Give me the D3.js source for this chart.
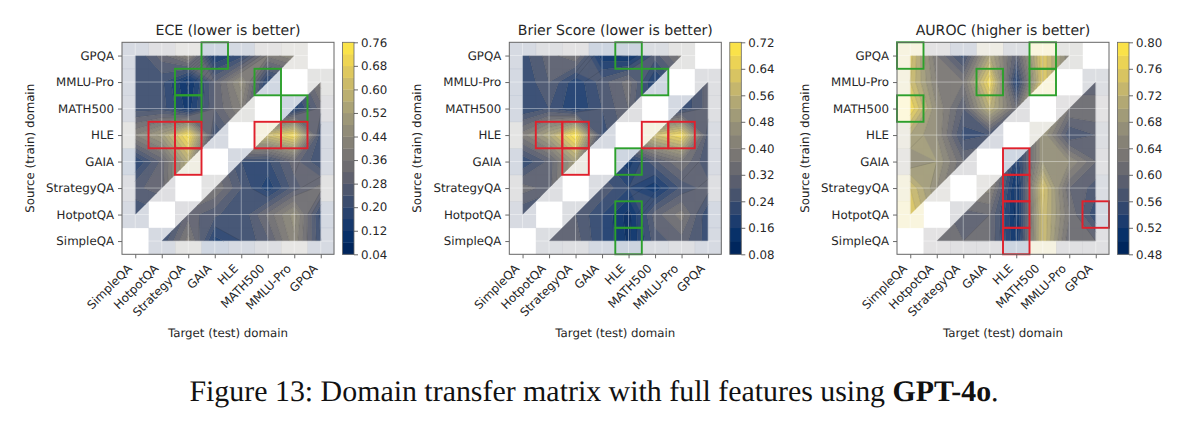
<!DOCTYPE html>
<html>
<head>
<meta charset="utf-8">
<script src="https://cdn.jsdelivr.net/npm/d3@7"></script>
<style>
  html, body { margin: 0; padding: 0; background: #fff; }
  svg { display: block; text-rendering: geometricPrecision; }
  text { font-family: "DejaVu Sans", sans-serif; fill: #262626; }
  .caption { font-family: "Liberation Serif", serif; fill: #111; }
</style>
</head>
<body>
<svg id="figure" width="1186" height="423"></svg>
<script>
// Domains in index order; row 0 sits at the bottom, column 0 at the left.
const domains = ["SimpleQA", "HotpotQA", "StrategyQA", "GAIA", "HLE", "MATH500", "MMLU-Pro", "GPQA"];
const N = NaN; // a domain is never transferred onto itself

// Each matrix is listed row by row, source SimpleQA first, target SimpleQA first.
const eceValues = [
  [N,   .20, .38, .14, .20, .27, .43, .20],
  [.20, N,   .30, .25, .20, .33, .46, .18],
  [.27, .30, N,   .36, .24, .13, .26, .34],
  [.15, .29, .56, N,   .20, .19, .30, .20],
  [.40, .50, .74, .20, N,   .62, .72, .20],
  [.22, .22, .10, .28, .40, N,   .13, .30],
  [.20, .21, .07, .28, .46, .14, N,   .38],
  [.20, .30, .42, .11, .18, .37, .44, N  ]
];
const brierValues = [
  [N,   .28, .30, .20, .11, .26, .30, .22],
  [.24, N,   .28, .20, .10, .30, .38, .20],
  [.34, .30, N,   .27, .20, .13, .25, .30],
  [.20, .29, .50, N,   .14, .27, .36, .24],
  [.38, .52, .72, .22, N,   .60, .68, .25],
  [.20, .24, .16, .24, .32, N,   .20, .30],
  [.20, .28, .17, .26, .34, .15, N,   .30],
  [.22, .30, .36, .13, .11, .26, .38, N  ]
];
const aurocValues = [
  [N,   .62, .60, .60, .50, .74, .60, .60],
  [.76, N,   .59, .60, .49, .74, .62, .54],
  [.74, .66, N,   .65, .49, .75, .60, .57],
  [.66, .68, .60, N,   .52, .68, .66, .60],
  [.70, .66, .55, .56, N,   .68, .56, .58],
  [.78, .66, .58, .72, .60, N,   .62, .62],
  [.74, .64, .62, .78, .52, .76, N,   .58],
  [.75, .62, .55, .70, .58, .76, .64, N  ]
];

// Colour ranges and contour spacing for the three metrics.
const eceTicks = [.04, .12, .20, .28, .36, .44, .52, .60, .68, .76];
const brierTicks = [.08, .16, .24, .32, .40, .48, .56, .64, .72];
const aurocTicks = [.48, .52, .56, .60, .64, .68, .72, .76, .80];
const eceStep = .04, brierStep = .04, aurocStep = .02;

// Highlighted cells as [column, row].
const eceGreen = [[3, 7], [2, 6], [2, 5], [5, 6], [6, 5]];
const eceRed = [[1, 4], [2, 4], [2, 3], [5, 4], [6, 4]];
const brierGreen = [[4, 7], [5, 6], [4, 3], [4, 1], [4, 0]];
const brierRed = [[1, 4], [2, 4], [2, 3], [5, 4], [6, 4]];
const aurocGreen = [[0, 7], [5, 7], [3, 6], [5, 6], [0, 5]];
const aurocRed = [[4, 3], [4, 2], [4, 1], [4, 0], [7, 1]];

const panels = [
  { title: "ECE (lower is better)", values: eceValues, ticks: eceTicks, step: eceStep, green: eceGreen, red: eceRed, left: 122 },
  { title: "Brier Score (lower is better)", values: brierValues, ticks: brierTicks, step: brierStep, green: brierGreen, red: brierRed, left: 509.3 },
  { title: "AUROC (higher is better)", values: aurocValues, ticks: aurocTicks, step: aurocStep, green: aurocGreen, red: aurocRed, left: 897 }
];

const SIZE = 212, TOP = 42.3, FONT = 11.8;
const svg = d3.select("#figure");

// Walks the perimeter of a cell polygon and keeps the stretch inside [lo, hi].
function bandPolygon(poly, lo, hi) {
  const out = [];
  poly.forEach((p, i) => {
    const q = poly[(i + 1) % poly.length];
    if (p[2] >= lo && p[2] <= hi) out.push([p[0], p[1]]);
    const crossings = [lo, hi]
      .filter(l => (p[2] < l && q[2] > l) || (p[2] > l && q[2] < l))
      .map(l => (l - p[2]) / (q[2] - p[2]))
      .sort((a, b) => a - b);
    crossings.forEach(t => out.push([p[0] + t * (q[0] - p[0]), p[1] + t * (q[1] - p[1])]));
  });
  return out;
}

// Points where one level crosses the perimeter of a cell polygon.
function levelCrossings(poly, level) {
  const out = [];
  poly.forEach((p, i) => {
    const q = poly[(i + 1) % poly.length];
    if ((p[2] < level && q[2] >= level) || (p[2] >= level && q[2] < level)) {
      const t = (level - p[2]) / (q[2] - p[2]);
      out.push([p[0] + t * (q[0] - p[0]), p[1] + t * (q[1] - p[1])]);
    }
  });
  return out;
}

// Cells of the grid spanned by the data points; one missing corner leaves a triangle.
function gridPolygons(values) {
  const polys = [];
  for (let r = 0; r < values.length - 1; r++) {
    for (let c = 0; c < values[r].length - 1; c++) {
      const corners = [[c, r], [c + 1, r], [c + 1, r + 1], [c, r + 1]]
        .map(([x, y]) => [x, y, values[y][x]])
        .filter(p => !Number.isNaN(p[2]));
      if (corners.length >= 3) polys.push(corners);
    }
  }
  return polys;
}

panels.forEach(panel => {
  const g = svg.append("g").attr("transform", `translate(${panel.left},${TOP})`);
  const x = d3.scaleLinear().domain([-0.5, domains.length - 0.5]).range([0, SIZE]);
  const y = d3.scaleLinear().domain([-0.5, domains.length - 0.5]).range([SIZE, 0]);
  const vMin = d3.min(panel.ticks), vMax = d3.max(panel.ticks);
  const color = d3.scaleSequential(d3.interpolateCividis).domain([vMin, vMax]);
  const levels = d3.range(0, Math.round((vMax - vMin) / panel.step) + 1).map(i => vMin + i * panel.step);
  const bands = d3.pairs(levels);

  // Faint heat-map underlay
  const cells = panel.values.flatMap((row, r) => row.map((v, c) => ({ c, r, v }))).filter(d => !Number.isNaN(d.v));
  g.selectAll("rect.cell").data(cells).join("rect")
    .attr("class", "cell")
    .attr("x", d => x(d.c - 0.5))
    .attr("y", d => y(d.r + 0.5))
    .attr("width", x(1) - x(0) + 0.3)
    .attr("height", y(0) - y(1) + 0.3)
    .attr("fill", d => color(d.v))
    .attr("opacity", 0.2);

  // Filled contour bands, one path per band
  const polys = gridPolygons(panel.values);
  const pathOf = ring => "M" + ring.map(p => `${x(p[0]).toFixed(2)},${y(p[1]).toFixed(2)}`).join("L") + "Z";
  const bandLayer = g.append("g").attr("opacity", 0.92);
  bandLayer.selectAll("path").data(bands).join("path")
    .attr("fill", b => color((b[0] + b[1]) / 2))
    .attr("stroke", b => color((b[0] + b[1]) / 2))
    .attr("stroke-width", 0.3)
    .attr("d", b => polys.map(poly => bandPolygon(poly, b[0], b[1]))
      .filter(ring => ring.length >= 3).map(pathOf).join(""));

  // Thin iso-lines on top of the bands
  g.append("g").selectAll("path").data(levels.slice(1, -1)).join("path")
    .attr("fill", "none")
    .attr("stroke", "#000")
    .attr("stroke-opacity", 0.18)
    .attr("stroke-width", 0.6)
    .attr("d", level => polys.map(poly => {
      const pts = levelCrossings(poly, level);
      let d = "";
      for (let i = 0; i + 1 < pts.length; i += 2) {
        d += `M${x(pts[i][0]).toFixed(2)},${y(pts[i][1]).toFixed(2)}L${x(pts[i + 1][0]).toFixed(2)},${y(pts[i + 1][1]).toFixed(2)}`;
      }
      return d;
    }).join(""));

  // White grid through every tick
  const idx = d3.range(domains.length);
  g.append("g").selectAll("line.v").data(idx).join("line")
    .attr("x1", x).attr("x2", x).attr("y1", 0).attr("y2", SIZE)
    .attr("stroke", "#fff").attr("stroke-opacity", 0.4).attr("stroke-width", 1);
  g.append("g").selectAll("line.h").data(idx).join("line")
    .attr("y1", y).attr("y2", y).attr("x1", 0).attr("x2", SIZE)
    .attr("stroke", "#fff").attr("stroke-opacity", 0.4).attr("stroke-width", 1);

  // Highlighted cells
  const boxes = [[panel.green, "#2ca02c"], [panel.red, "#e0202c"]];
  boxes.forEach(([list, stroke]) => {
    g.append("g").selectAll("rect").data(list).join("rect")
      .attr("x", d => x(d[0] - 0.5))
      .attr("y", d => y(d[1] + 0.5))
      .attr("width", x(1) - x(0))
      .attr("height", y(0) - y(1))
      .attr("fill", "none")
      .attr("stroke", stroke)
      .attr("stroke-width", 1.9);
  });

  // Axes
  const styleAxis = sel => {
    sel.selectAll("path.domain").remove();
    sel.selectAll(".tick line").attr("stroke", "#444").attr("stroke-width", 0.8);
    sel.selectAll("text").attr("font-size", FONT).attr("fill", "#262626");
  };
  const xAxis = g.append("g").attr("transform", `translate(0,${SIZE})`)
    .call(d3.axisBottom(x).tickValues(idx).tickFormat(i => domains[i]).tickSize(4).tickPadding(4))
    .call(styleAxis);
  xAxis.selectAll("text")
    .attr("text-anchor", "end")
    .attr("dy", null)
    .attr("y", 0)
    .attr("x", 0)
    .attr("transform", "translate(-3,15) rotate(-45)");
  g.append("g")
    .call(d3.axisLeft(y).tickValues(idx).tickFormat(i => domains[i]).tickSize(4).tickPadding(4))
    .call(styleAxis);

  g.append("rect").attr("width", SIZE).attr("height", SIZE)
    .attr("fill", "none").attr("stroke", "#666").attr("stroke-width", 1);

  // Titles
  g.append("text").attr("x", SIZE / 2).attr("y", -7.5).attr("text-anchor", "middle")
    .attr("font-size", 14.1).text(panel.title);
  g.append("text").attr("x", SIZE / 2).attr("y", 295).attr("text-anchor", "middle")
    .attr("font-size", FONT).text("Target (test) domain");
  g.append("text").attr("transform", `translate(-88,${SIZE / 2}) rotate(-90)`).attr("text-anchor", "middle")
    .attr("font-size", FONT).text("Source (train) domain");

  // Colour bar with one block per contour band
  const bar = g.append("g").attr("transform", `translate(${SIZE + 8.5},0)`);
  const barScale = d3.scaleLinear().domain([vMin, vMax]).range([SIZE, 0]);
  bar.selectAll("rect").data(bands).join("rect")
    .attr("y", b => barScale(b[1]))
    .attr("width", 11.5)
    .attr("height", b => barScale(b[0]) - barScale(b[1]) + 0.3)
    .attr("fill", b => color((b[0] + b[1]) / 2));
  bar.append("rect").attr("width", 11.5).attr("height", SIZE)
    .attr("fill", "none").attr("stroke", "#666").attr("stroke-width", 0.8);
  bar.append("g").attr("transform", "translate(11.5,0)")
    .call(d3.axisRight(barScale).tickValues(panel.ticks).tickFormat(d3.format(".2f")).tickSize(4).tickPadding(3))
    .call(styleAxis);
});

// Figure caption, with the model name in bold
const caption = svg.append("text").attr("class", "caption")
  .attr("x", 594).attr("y", 401).attr("text-anchor", "middle").attr("font-size", 29.9);
caption.append("tspan").text("Figure 13: Domain transfer matrix with full features using ");
caption.append("tspan").attr("font-weight", "bold").text("GPT-4o");
caption.append("tspan").text(".");
</script>
</body>
</html>
